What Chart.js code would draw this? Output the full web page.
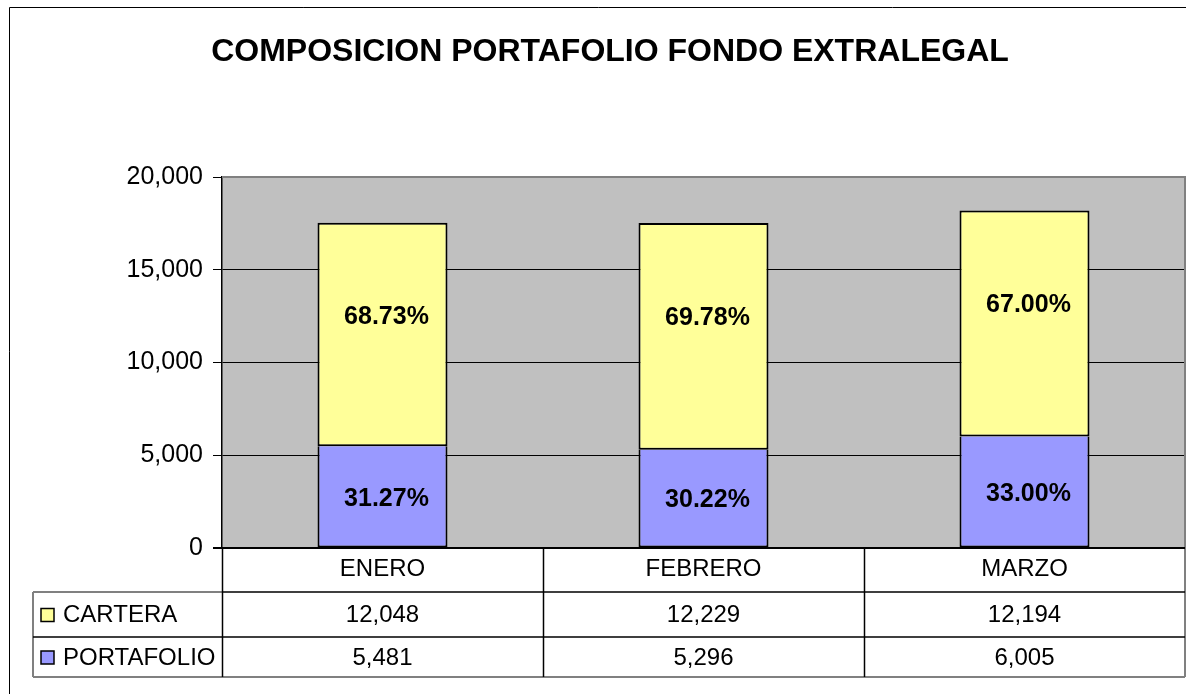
<!DOCTYPE html>
<html>
<head>
<meta charset="utf-8">
<script src="https://cdn.jsdelivr.net/npm/chart.js@4/dist/chart.umd.min.js"></script>
<style>
  html, body { margin: 0; padding: 0; background: #fff; }
  #wrap { width: 1186px; height: 694px; position: relative; }
</style>
</head>
<body>
<div id="wrap"><canvas id="myChart"></canvas></div>
<script>
const titulo = 'COMPOSICION PORTAFOLIO FONDO EXTRALEGAL';
const meses = ['ENERO', 'FEBRERO', 'MARZO'];
const cartera = [12048, 12229, 12194];
const portafolio = [5481, 5296, 6005];
const yTicks = [0, 5000, 10000, 15000, 20000];

const fmt = v => v.toLocaleString('en-US');
const fuente = "'Liberation Sans', Arial, sans-serif";

// fondo gris del area de trazado
const fondoPlot = {
    id: 'fondoPlot',
    beforeDraw(chart) {
        const { ctx, chartArea: a } = chart;
        ctx.save();
        ctx.fillStyle = '#C0C0C0';
        ctx.fillRect(a.left, a.top, a.right - a.left, a.bottom - a.top);
        ctx.restore();
    }
};

// porcentajes dentro de cada segmento
const etiquetas = {
    id: 'etiquetas',
    afterDatasetsDraw(chart) {
        const { ctx } = chart;
        ctx.save();
        ctx.font = 'bold 25px ' + fuente;
        ctx.fillStyle = '#000';
        ctx.textAlign = 'center';
        ctx.textBaseline = 'middle';
        chart.data.datasets.forEach((ds, di) => {
            const meta = chart.getDatasetMeta(di);
            meta.data.forEach((bar, i) => {
                const total = cartera[i] + portafolio[i];
                const pct = (ds.data[i] / total * 100).toFixed(2) + '%';
                const f = di === 0 ? 0.52 : 0.42;
                const y = bar.y + (bar.base - bar.y) * f;
                ctx.fillText(pct, bar.x + 4, y);
            });
        });
        ctx.restore();
    }
};

// titulo, marco y tabla de datos
const tabla = {
    id: 'tabla',
    afterDraw(chart) {
        const { ctx, chartArea: a } = chart;
        const w = chart.width;
        ctx.save();

        // marco exterior
        ctx.strokeStyle = '#000';
        ctx.lineWidth = 1;
        ctx.beginPath();
        ctx.moveTo(9.5, 700);
        ctx.lineTo(9.5, 7.5);
        ctx.lineTo(w + 5, 7.5);
        ctx.stroke();

        // titulo
        ctx.font = 'bold 32px ' + fuente;
        ctx.fillStyle = '#000';
        ctx.textAlign = 'center';
        ctx.textBaseline = 'middle';
        ctx.fillText(titulo, 610, 52);

        // borde gris del area de trazado
        ctx.strokeStyle = '#808080';
        ctx.lineWidth = 2;
        ctx.beginPath();
        ctx.moveTo(a.left, a.top);
        ctx.lineTo(a.right, a.top);
        ctx.lineTo(a.right, a.bottom);
        ctx.stroke();

        const r0 = a.bottom, r1 = 592, r2 = 637, r3 = 677;
        const leftCol = 33;
        const colW = (a.right - a.left) / meses.length;

        // lineas grises de la tabla
        ctx.strokeStyle = '#808080';
        ctx.lineWidth = 2;
        ctx.beginPath();
        ctx.moveTo(leftCol, r1); ctx.lineTo(a.left, r1);
        ctx.moveTo(leftCol, r1); ctx.lineTo(leftCol, r3);
        ctx.moveTo(leftCol, r3); ctx.lineTo(a.right, r3);
        ctx.moveTo(a.right, r0); ctx.lineTo(a.right, r3);
        ctx.stroke();

        // lineas negras
        ctx.strokeStyle = '#000';
        ctx.lineWidth = 1.5;
        ctx.beginPath();
        ctx.moveTo(a.left, r1); ctx.lineTo(a.right, r1);
        ctx.moveTo(leftCol, r2); ctx.lineTo(a.right, r2);
        for (let i = 0; i < meses.length; i++) {
            const x = Math.round(a.left + i * colW) + 0.5;
            ctx.moveTo(x, r0); ctx.lineTo(x, r3);
        }
        ctx.stroke();

        // eje cero
        ctx.lineWidth = 2;
        ctx.beginPath();
        ctx.moveTo(a.left - 9, a.bottom);
        ctx.lineTo(a.right, a.bottom);
        ctx.stroke();

        // leyenda y valores
        const filas = [
            { nombre: 'CARTERA', datos: cartera, color: '#FFFF99', y: (r1 + r2) / 2 },
            { nombre: 'PORTAFOLIO', datos: portafolio, color: '#9999FF', y: (r2 + r3) / 2 }
        ];
        ctx.font = '24px ' + fuente;
        ctx.textBaseline = 'middle';
        filas.forEach(f => {
            ctx.fillStyle = f.color;
            ctx.fillRect(41, f.y - 6, 13, 13);
            ctx.strokeStyle = '#000';
            ctx.lineWidth = 1.5;
            ctx.strokeRect(41, f.y - 6, 13, 13);
            ctx.fillStyle = '#000';
            ctx.textAlign = 'left';
            ctx.fillText(f.nombre, 63, f.y + 1);
            ctx.textAlign = 'center';
            f.datos.forEach((v, i) => {
                ctx.fillText(fmt(v), a.left + (i + 0.5) * colW, f.y + 1);
            });
        });

        ctx.restore();
    }
};

const ctx01 = document.getElementById('myChart').getContext('2d');
const myChart = new Chart(ctx01, {
    type: 'bar',
    data: {
        labels: meses,
        datasets: [
            {
                label: 'PORTAFOLIO',
                data: portafolio,
                backgroundColor: '#9999FF',
                borderColor: '#000',
                borderWidth: 2,
                borderSkipped: 'end',
                categoryPercentage: 1,
                barPercentage: 0.405
            },
            {
                label: 'CARTERA',
                data: cartera,
                backgroundColor: '#FFFF99',
                borderColor: '#000',
                borderWidth: 2,
                borderSkipped: false,
                categoryPercentage: 1,
                barPercentage: 0.405
            }
        ]
    },
    options: {
        responsive: true,
        maintainAspectRatio: false,
        animation: false,
        layout: {
            padding: { top: 177, right: 1, bottom: 102, left: 0 }
        },
        scales: {
            x: {
                stacked: true,
                grid: { display: false, drawTicks: false },
                border: { display: false },
                ticks: {
                    color: '#000',
                    padding: 7,
                    font: { size: 24, family: fuente }
                },
                afterFit(scale) { scale.height = 44; }
            },
            y: {
                stacked: true,
                min: 0,
                max: 20000,
                afterBuildTicks(scale) {
                    scale.ticks = yTicks.map(v => ({ value: v }));
                },
                grid: { color: '#000', lineWidth: 1, tickLength: 9 },
                border: { color: '#000', width: 1.5 },
                ticks: {
                    color: '#000',
                    padding: 10,
                    font: { size: 25, family: fuente },
                    callback: v => fmt(v)
                },
                afterFit(scale) { scale.width = 222; }
            }
        },
        plugins: {
            legend: { display: false },
            title: { display: false },
            tooltip: { enabled: false }
        }
    },
    plugins: [fondoPlot, etiquetas, tabla]
});
</script>
</body>
</html>
